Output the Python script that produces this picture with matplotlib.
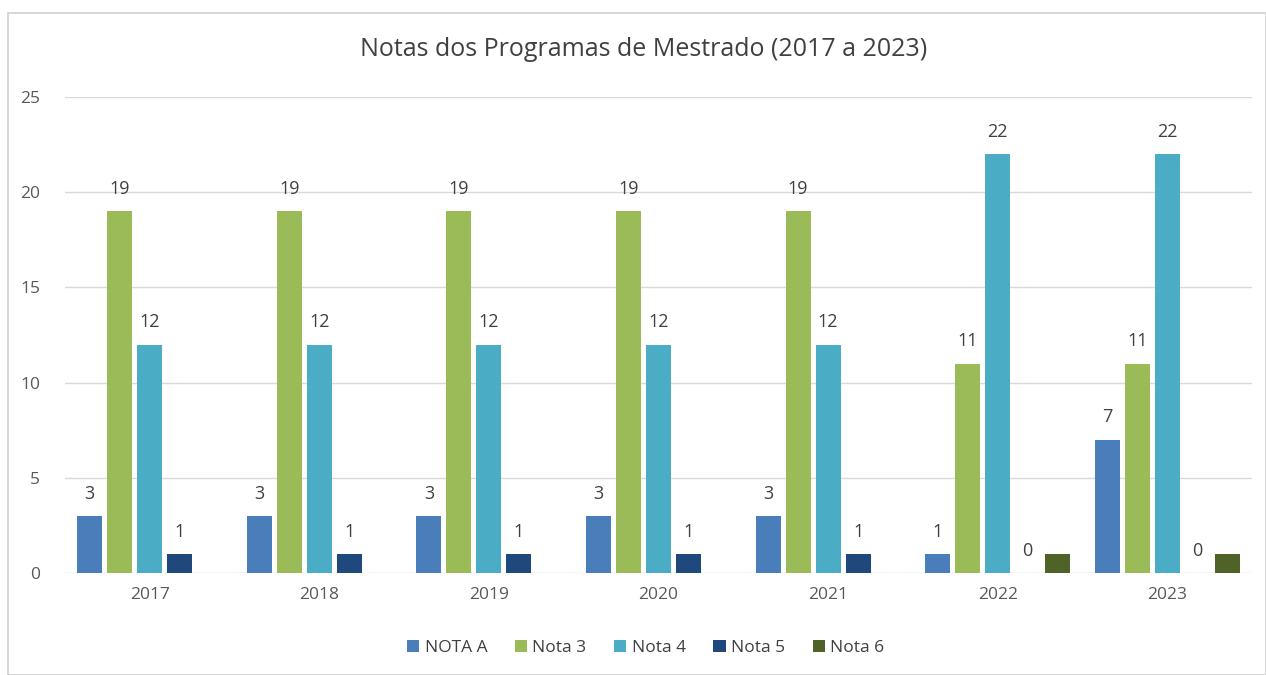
import numpy as np
import matplotlib.pyplot as plt
from matplotlib.patches import Rectangle

plt.rcParams['font.family'] = ['Open Sans', 'DejaVu Sans']

# Data
anos = ['2017', '2018', '2019', '2020', '2021', '2022', '2023']
nota_a = [3, 3, 3, 3, 3, 1, 7]
nota_3 = [19, 19, 19, 19, 19, 11, 11]
nota_4 = [12, 12, 12, 12, 12, 22, 22]
nota_5 = [1, 1, 1, 1, 1, 0, 0]
nota_6 = [np.nan, np.nan, np.nan, np.nan, np.nan, 1, 1]

series = [
    ('NOTA A', nota_a, '#4a7ebb', True),
    ('Nota 3', nota_3, '#9bbb59', True),
    ('Nota 4', nota_4, '#4bacc6', True),
    ('Nota 5', nota_5, '#1f497d', True),
    ('Nota 6', nota_6, '#4f6228', False),
]

fig = plt.figure(figsize=(12.66, 6.75), dpi=100)
# moldura do gráfico
fig.patches.append(Rectangle((8 / 1266, 0), 1 - 8 / 1266, 1 - 13 / 675, transform=fig.transFigure,
                             fill=False, edgecolor='#d0d0d0', linewidth=1.2))

ax = fig.add_axes([65 / 1266, 1 - 573 / 675, (1252 - 65) / 1266, (573 - 97) / 675])

x = np.arange(len(anos))
step = 30 / 169.5
width = 25 / 169.5
for i, (nome, vals, cor, rotulo) in enumerate(series):
    pos = x + (i - 2) * step
    v = np.array(vals, dtype=float)
    ax.bar(pos, np.nan_to_num(v), width, color=cor, label=nome, zorder=3)
    if rotulo:
        for xp, val in zip(pos, v):
            if not np.isnan(val):
                ax.text(xp, val + 0.7, f'{int(val)}', ha='center', va='bottom',
                        fontsize=13, color='#404040')

ax.set_xlim(-0.5, len(anos) - 0.5)
ax.set_ylim(0, 25)
ax.set_yticks([0, 5, 10, 15, 20, 25])
ax.set_xticks(x)
ax.set_xticklabels(anos)
ax.grid(axis='y', color='#d9d9d9', linewidth=1, zorder=0)
for s in ax.spines.values():
    s.set_visible(False)
ax.tick_params(length=0, labelsize=12.5, labelcolor='#595959')
ax.tick_params(axis='y', pad=18)
ax.tick_params(axis='x', pad=10)

fig.text(0.508, 1 - 49 / 675, 'Notas dos Programas de Mestrado (2017 a 2023)', ha='center', va='center',
         fontsize=18, color='#404040')

fig.legend(loc='center', bbox_to_anchor=(0.51, 1 - 648 / 675), ncol=5, frameon=False,
           fontsize=12.5, handlelength=0.7, handleheight=0.7, handletextpad=0.3, columnspacing=1.6,
           labelcolor='#404040')

fig.savefig('out.png', dpi=100)
